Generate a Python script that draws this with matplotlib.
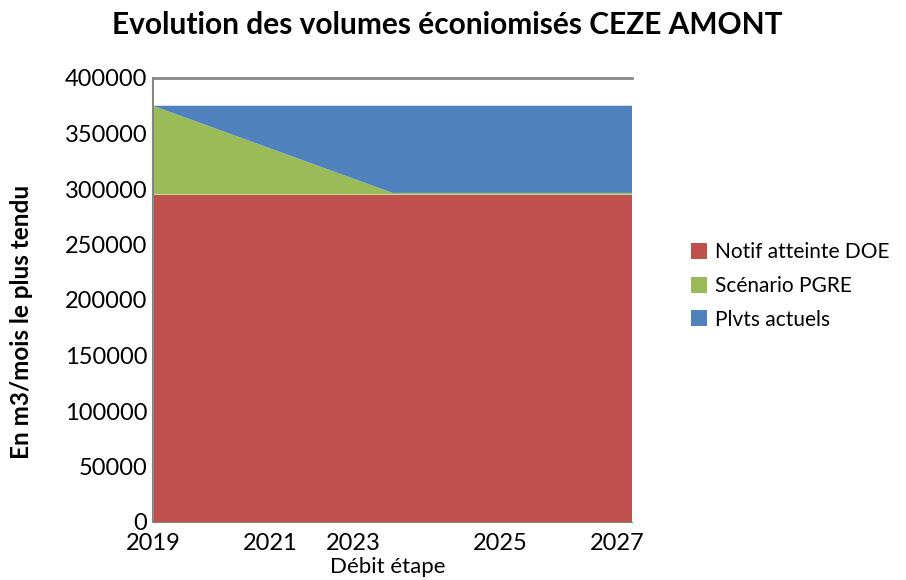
import matplotlib.pyplot as plt

plt.rcParams['font.family'] = ['Lato', 'DejaVu Sans']

# data
annees = [2019, 2023, 2027]
notif_doe = [295000, 295000, 295000]
scenario_pgre = [80000, 1500, 1500]
plvts_actuels = [0, 78500, 78500]

tick_labels = ['2019', '2021', '2023', '2025', '2027']
tick_pos = [2019.0, 2020.95, 2022.35, 2024.8, 2026.75]

couleurs = ['#C0504D', '#9BBB59', '#4F81BD']
noms = ['Notif atteinte DOE', 'Scénario PGRE', 'Plvts actuels']

fig = plt.figure(figsize=(9.06, 5.8), dpi=100)
ax = fig.add_axes([153/906, 1 - 522/580, (632-153)/906, (522-78)/580])

ax.stackplot(annees, notif_doe, scenario_pgre, plvts_actuels,
             colors=couleurs, labels=noms, linewidth=0)

ax.set_xlim(2019, 2027)
ax.set_ylim(0, 400000)
ax.set_yticks(range(0, 400001, 50000))
ax.set_xticks(tick_pos)
ax.set_xticklabels(tick_labels)
ax.tick_params(axis='both', length=0, labelsize=17, pad=4)
ax.tick_params(axis='x', pad=8)

for s in ['left', 'top', 'bottom']:
    ax.spines[s].set_color('#868686')
ax.spines['top'].set_linewidth(2)
ax.spines['left'].set_linewidth(1.5)
ax.spines['right'].set_visible(False)

ax.set_xlabel('Débit étape', fontsize=16)
ax.xaxis.set_label_coords(0.49, -0.078)
ax.set_ylabel('En m3/mois le plus tendu', fontsize=17.5, fontweight='bold')
ax.yaxis.set_label_coords(-0.25, 0.45)

fig.text(447/906, 1 - 25/580, 'Evolution des volumes éconiomisés CEZE AMONT',
         ha='center', va='center', fontsize=21.5, fontweight='bold')

h, l = ax.get_legend_handles_labels()
fig.legend(h, l, loc='center left', bbox_to_anchor=(672/906, 1 - 286/580),
           frameon=False, fontsize=15, handlelength=0.8, handleheight=0.8,
           handletextpad=0.35, labelspacing=0.65)

fig.savefig('out.png', dpi=100)
